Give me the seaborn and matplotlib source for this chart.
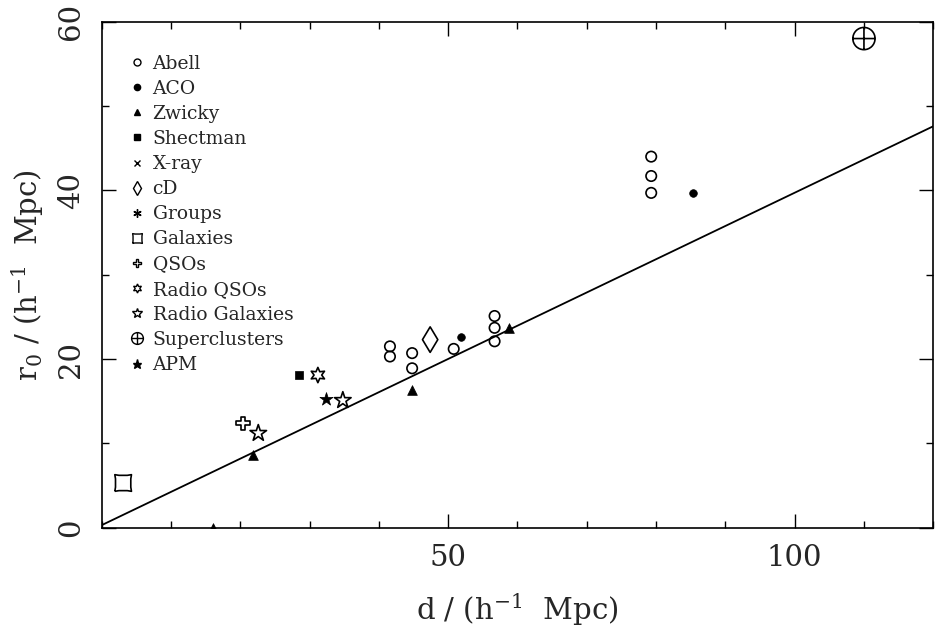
import numpy as np
import pandas as pd
import matplotlib
matplotlib.use("Agg")
import matplotlib.pyplot as plt
from matplotlib.path import Path
from matplotlib.lines import Line2D
from matplotlib.ticker import MultipleLocator, FixedLocator
import seaborn as sns

# ---- data ----
abell_x = [41.6, 41.6, 44.8, 44.8, 50.8, 56.7, 56.7, 56.7, 79.3, 79.3, 79.3]
abell_y = [21.5, 20.3, 20.7, 18.9, 21.2, 25.1, 23.7, 22.1, 44.0, 41.7, 39.7]
aco_x = [51.8, 85.3]
aco_y = [22.6, 39.7]
zwicky_x = [16.1, 21.8, 44.8, 58.8]
zwicky_y = [0.0, 8.6, 16.3, 23.7]
shectman_x = [28.5]
shectman_y = [18.1]
xray_x = [48.3]
xray_y = [19.9]
cd_x = [47.4]
cd_y = [22.3]
groups_x = [15.8]
groups_y = [6.0]
galaxies_x = [3.1]
galaxies_y = [5.3]
qsos_x = [20.4]
qsos_y = [12.4]
radioqso_x = [31.2]
radioqso_y = [18.1]
radiogal_x = [22.6, 34.8]
radiogal_y = [11.2, 15.1]
super_x = [110.0]
super_y = [58.0]
apm_x = [32.4]
apm_y = [15.3]
fit_x = [0.0, 120.0]
fit_y = [0.3, 47.6]

sns.set_style("ticks")
plt.rcParams['font.family'] = ['DejaVu Serif']
plt.rcParams['mathtext.fontset'] = 'dejavuserif'

# ---- custom markers ----
M, C3, L = Path.MOVETO, Path.CURVE3, Path.LINETO
k = 0.78
galaxy_marker = Path([(-1, -1), (0, -k), (1, -1), (k, 0), (1, 1), (0, k), (-1, 1), (-k, 0), (-1, -1)],
                     [M, C3, C3, C3, C3, C3, C3, C3, C3])
circ = Path.unit_circle()
cross = Path([(-1, 0), (1, 0), (0, -1), (0, 1)], [M, L, M, L])
super_marker = Path.make_compound_path(circ, cross)
hexagram = (6, 1, 0)

fig = plt.figure(figsize=(9.37, 6.36), dpi=100)
ax = fig.add_axes([0.1085, 0.1703, 0.8875, 0.7956])

lw = 1.2
# (label, xs, ys, marker, size_pt, filled)
groups = [
    ("Abell", abell_x, abell_y, "o", 7.5, False),
    ("ACO", aco_x, aco_y, "o", 5.5, True),
    ("Zwicky", zwicky_x, zwicky_y, "^", 7.0, True),
    ("Shectman", shectman_x, shectman_y, "s", 5.5, True),
    ("X-ray", xray_x, xray_y, "x", 7.5, False),
    ("cD", cd_x, cd_y, "d", 13.0, False),
    ("Groups", groups_x, groups_y, (6, 2, 0), 10.0, False),
    ("Galaxies", galaxies_x, galaxies_y, galaxy_marker, 12.0, False),
    ("QSOs", qsos_x, qsos_y, "P", 9.5, False),
    ("Radio QSOs", radioqso_x, radioqso_y, hexagram, 11.0, False),
    ("Radio Galaxies", radiogal_x, radiogal_y, "*", 12.5, False),
    ("Superclusters", super_x, super_y, super_marker, 16.0, False),
    ("APM", apm_x, apm_y, "*", 10.0, True),
]

sns.lineplot(x=fit_x, y=fit_y, ax=ax, color="black", linewidth=1.3)

for label, xs, ys, mk, size, filled in groups:
    if filled:
        sns.scatterplot(x=xs, y=ys, ax=ax, marker=mk, s=size ** 2, color="black",
                        edgecolor="black", linewidth=0.5, zorder=3)
    else:
        sns.scatterplot(x=xs, y=ys, ax=ax, marker=mk, s=size ** 2, color="black",
                        facecolor="none", edgecolor="black", linewidth=lw, zorder=3)

# legend handles (small markers like the reference)
leg_size = {"Abell": 5, "ACO": 4.5, "Zwicky": 5, "Shectman": 4.5, "X-ray": 5, "cD": 7,
            "Groups": 6, "Galaxies": 7, "QSOs": 6, "Radio QSOs": 6.5, "Radio Galaxies": 7.5,
            "Superclusters": 8.5, "APM": 6.5}
handles = []
for label, xs, ys, mk, size, filled in groups:
    h = Line2D([], [], linestyle="none", marker=mk, markersize=leg_size[label],
               markerfacecolor="black" if filled else "none",
               markeredgecolor="black", markeredgewidth=1.0)
    handles.append(h)
leg = ax.legend(handles, [g[0] for g in groups], loc="upper left",
                bbox_to_anchor=(0.033, 0.935), frameon=False, fontsize=13.5,
                handlelength=0.8, handletextpad=0.45, labelspacing=0.38,
                borderaxespad=0.0, borderpad=0.0)

ax.set_xlim(0, 120)
ax.set_ylim(0, 60)
ax.xaxis.set_major_locator(FixedLocator([50, 100]))
ax.xaxis.set_minor_locator(MultipleLocator(10))
ax.yaxis.set_major_locator(MultipleLocator(20))
ax.yaxis.set_minor_locator(MultipleLocator(10))
ax.tick_params(which="both", direction="in", top=True, right=True, color="black")
ax.tick_params(which="major", length=10, width=1.0, labelsize=21, pad=12)
ax.tick_params(which="minor", length=5, width=1.0)
ax.tick_params(axis="y", labelrotation=90)
for t in ax.get_yticklabels():
    t.set_va("center")

for sp in ax.spines.values():
    sp.set_linewidth(1.2)
    sp.set_color("black")

ax.set_xlabel(r"d / (h$^{-1}$  Mpc)", fontsize=21, labelpad=14)
ax.set_ylabel(r"r$_0$ / (h$^{-1}$  Mpc)", fontsize=21, labelpad=8)

fig.savefig("out.png", dpi=100, facecolor="white")
